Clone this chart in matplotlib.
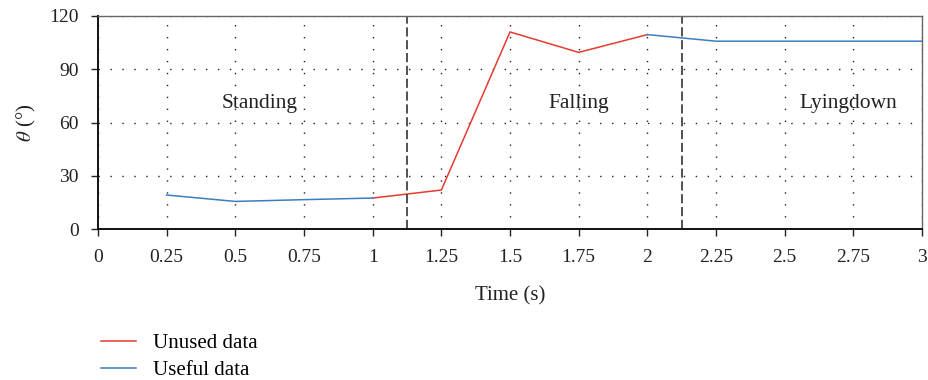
import matplotlib.pyplot as plt

plt.rcParams["font.family"] = ["Liberation Serif", "DejaVu Serif"]
plt.rcParams["mathtext.fontset"] = "stix"

# angle samples (degrees) every 0.25 s
useful_t1 = [0.25, 0.5, 0.75, 1.0]
useful_a1 = [19.2, 15.6, 16.6, 17.5]
unused_t = [1.0, 1.25, 1.5, 1.75, 2.0]
unused_a = [17.5, 22.0, 111.0, 99.5, 109.5]
useful_t2 = [2.0, 2.25, 2.5, 2.75, 3.0]
useful_a2 = [109.5, 105.8, 105.8, 105.8, 105.8]

phase_bounds = [1.125, 2.125]
phase_names = ["Standing", "Falling", "Lyingdown"]
phase_x = [0.59, 1.75, 2.73]

x_ticks = [0, 0.25, 0.5, 0.75, 1, 1.25, 1.5, 1.75, 2, 2.25, 2.5, 2.75, 3]
x_labels = ["0", "0.25", "0.5", "0.75", "1", "1.25", "1.5", "1.75", "2",
            "2.25", "2.5", "2.75", "3"]
y_ticks = [0, 30, 60, 90, 120]

RED = "#e63b2e"
BLUE = "#3b7cc2"

fig = plt.figure(figsize=(9.29, 3.80), dpi=100)
ax = fig.add_axes([0.1055, 0.397, 0.887, 0.561])

ax.plot(unused_t, unused_a, color=RED, lw=1.1, label="Unused data")
ax.plot(useful_t1, useful_a1, color=BLUE, lw=1.1, label="Useful data")
ax.plot(useful_t2, useful_a2, color=BLUE, lw=1.1)

for xb in phase_bounds:
    ax.axvline(xb, color="#333333", lw=1.2, ls=(0, (5.5, 2.2)))

for name, xp in zip(phase_names, phase_x):
    ax.text(xp, 71, name, ha="center", va="center", fontsize=15.5, color="#222222")

ax.set_xlim(0, 3)
ax.set_ylim(0, 120)
ax.set_xticks(x_ticks)
ax.set_xticklabels(x_labels)
ax.set_yticks(y_ticks)
ax.grid(True, color="#222222", ls=(0, (1, 7.6)), lw=1.0)
ax.tick_params(direction="out", length=5, width=1.0, labelsize=14,
               colors="#222222", pad=9)

for side in ["left", "bottom"]:
    ax.spines[side].set_linewidth(1.4)
    ax.spines[side].set_color("#111111")
for side in ["top", "right"]:
    ax.spines[side].set_linewidth(1.0)
    ax.spines[side].set_color("#666666")

ax.set_xlabel("Time (s)", fontsize=15, color="#222222", labelpad=15)
ax.set_ylabel(r"$\theta$ (°)", fontsize=15, color="#222222", labelpad=8)

handles, labels = ax.get_legend_handles_labels()
fig.legend(handles, labels, loc="upper left", bbox_to_anchor=(0.1085, 0.122),
           frameon=False, fontsize=15, handlelength=1.7, handletextpad=0.8,
           labelspacing=0.35, borderaxespad=0, borderpad=0)

fig.savefig("out.png", dpi=100)
